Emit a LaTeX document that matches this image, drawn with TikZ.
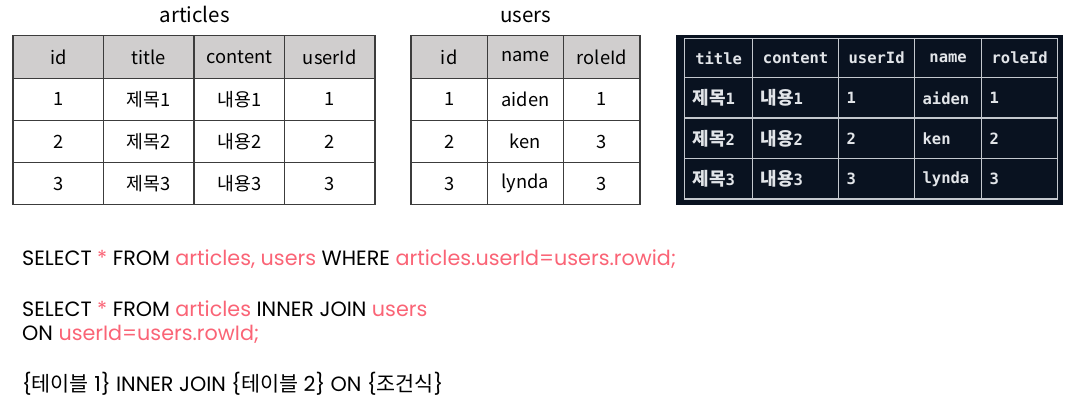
\documentclass[tikz,border=0pt]{standalone}
\usepackage{fontspec}
\setmainfont{Noto Sans CJK KR}
\newfontfamily\sqlfont{Poppins}
\newfontfamily\kofont{Noto Sans CJK KR}
\newfontfamily\codefont{DejaVu Sans Mono}
\usepackage{tikz}
\usetikzlibrary{positioning}
\definecolor{headgray}{RGB}{208,206,206}
\definecolor{linegray}{RGB}{60,60,60}
\definecolor{sqlpink}{RGB}{250,100,118}
\definecolor{termbg}{RGB}{9,18,32}
\definecolor{termline}{RGB}{196,200,206}
\definecolor{termtext}{RGB}{226,229,233}
\tikzstyle{cell} = [draw=linegray, line width=1.2pt, rectangle, inner sep=0pt,
    minimum height=42.25pt, font=\fontsize{18.3}{21}\selectfont]
\tikzstyle{head} = [cell, fill=headgray]
\tikzstyle{caption} = [inner sep=0pt, font=\fontsize{20.5}{24}\selectfont]
\tikzstyle{term} = [rectangle, fill=termbg, inner sep=0pt]
\tikzstyle{tcell} = [draw=termline, line width=1.2pt, rectangle, inner xsep=8pt,
    inner ysep=0pt, anchor=north west, text=termtext,
    font=\codefont\bfseries\fontsize{15.5}{18}\selectfont]
\tikzstyle{sql} = [anchor=base west, inner sep=0pt, font=\sqlfont\fontsize{20.7}{24}\selectfont]
\newcommand{\pk}[1]{\textcolor{sqlpink}{#1}}
\newcommand{\ko}[1]{{\kofont #1}}
\newcommand{\kot}[1]{{\kofont\fontsize{18}{18}\selectfont #1}}

\begin{document}
\begin{tikzpicture}[x=1pt, y=-1pt]
    \useasboundingbox (0,0) rectangle (1070,406);

    % The articles table
    \foreach \h [count=\i from 0] in {id,title,content,userId}
        \node [head, minimum width=90.5pt] (art-h\i) at ({13+90.5*(\i+0.5)},57) {\h};
    \foreach \a/\b/\c/\d [count=\j] in {1/제목1/내용1/1, 2/제목2/내용2/2, 3/제목3/내용3/3} {
        \node [cell, minimum width=90.5pt] (art-\j-0) at (58.25,{57+42.25*\j}) {\a};
        \node [cell, minimum width=90.5pt] (art-\j-1) at (148.75,{57+42.25*\j}) {\b};
        \node [cell, minimum width=90.5pt] (art-\j-2) at (239.25,{57+42.25*\j}) {\c};
        \node [cell, minimum width=90.5pt] (art-\j-3) at (329.75,{57+42.25*\j}) {\d};
    }
    \node [caption, above=12pt of art-h1.north east] (art-title) {articles};

    % The users table
    \foreach \h [count=\i from 0] in {id,name,roleId}
        \node [head, minimum width=76.33pt] (usr-h\i) at ({411+76.33*(\i+0.5)},57) {\h};
    \foreach \a/\b/\c [count=\j] in {1/aiden/1, 2/ken/3, 3/lynda/3} {
        \node [cell, minimum width=76.33pt] (usr-\j-0) at (449.17,{57+42.25*\j}) {\a};
        \node [cell, minimum width=76.33pt] (usr-\j-1) at (525.5,{57+42.25*\j}) {\b};
        \node [cell, minimum width=76.33pt] (usr-\j-2) at (601.83,{57+42.25*\j}) {\c};
    }
    \node [caption, above=12pt of usr-h1] (usr-title) {users};

    % The joined result, as a terminal prints it
    \node [term, minimum width=387pt, minimum height=170pt, anchor=north west] (termbox) at (676,35) {};
    \foreach \x/\w/\h [count=\i] in {684/68/title, 752/86/content, 838/76/userId, 914/67/name, 981/76/roleId}
        \node [tcell, minimum width=\w pt, minimum height=39pt] (res-h\i) at (\x,38) {\h};
    \foreach \t/\u/\n/\r [count=\j] in {1/1/aiden/1, 2/2/ken/2, 3/3/lynda/3} {
        \pgfmathsetmacro\y{77+40.5*(\j-1)}
        \node [tcell, text width=52pt, minimum height=40.5pt] (res-\j-1) at (684,\y) {\kot{제목}\t};
        \node [tcell, text width=70pt, minimum height=40.5pt] (res-\j-2) at (752,\y) {\kot{내용}\t};
        \node [tcell, text width=60pt, minimum height=40.5pt] (res-\j-3) at (838,\y) {\u};
        \node [tcell, text width=51pt, minimum height=40.5pt] (res-\j-4) at (914,\y) {\n};
        \node [tcell, text width=60pt, minimum height=40.5pt] (res-\j-5) at (981,\y) {\r};
    }

    % The queries
    \node [sql] (query1) at (22,265) {SELECT \pk{*} FROM \pk{articles, users} WHERE \pk{articles.userId=users.rowid;}};
    \node [sql] (query2) at (22,316) {SELECT \pk{*} FROM \pk{articles} INNER JOIN \pk{users}};
    \node [sql] (query3) at (22,340) {ON \pk{userId=users.rowId;}};
    \node [sql] (query4) at (22,391) {\{\ko{테이블} 1\} INNER JOIN \{\ko{테이블} 2\} ON \{\ko{조건식}\}};
\end{tikzpicture}
\end{document}
